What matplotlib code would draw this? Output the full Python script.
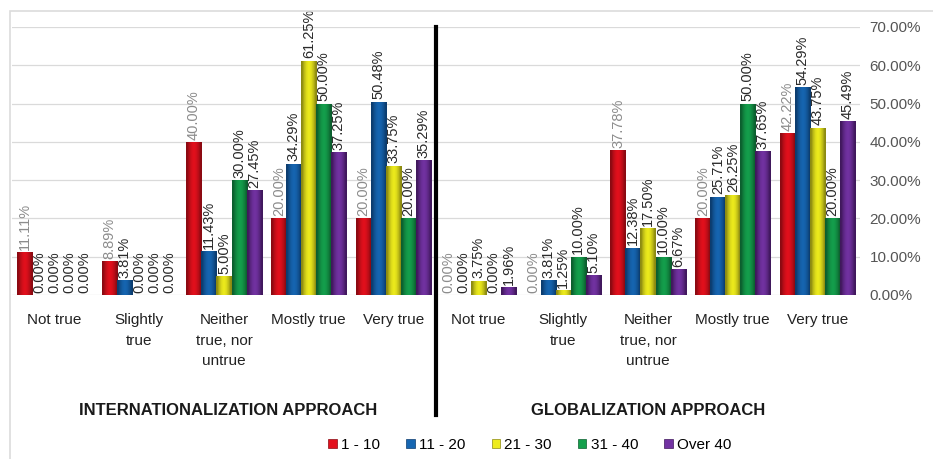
import matplotlib
matplotlib.use("Agg")
import matplotlib.pyplot as plt
from matplotlib.colors import LinearSegmentedColormap
from matplotlib.patches import Patch, Rectangle
import numpy as np

# answer categories, repeated for both approaches
answers = ["Not true", "Slightly\ntrue", "Neither\ntrue, nor\nuntrue", "Mostly true", "Very true"]
age_groups = ["1 - 10", "11 - 20", "21 - 30", "31 - 40", "Over 40"]

# percentages per age group, one value per answer
intl_1_10 = [11.11, 8.89, 40.00, 20.00, 20.00]
intl_11_20 = [0.00, 3.81, 11.43, 34.29, 50.48]
intl_21_30 = [0.00, 0.00, 5.00, 61.25, 33.75]
intl_31_40 = [0.00, 0.00, 30.00, 50.00, 20.00]
intl_over_40 = [0.00, 0.00, 27.45, 37.25, 35.29]

glob_1_10 = [0.00, 0.00, 37.78, 20.00, 42.22]
glob_11_20 = [0.00, 3.81, 12.38, 25.71, 54.29]
glob_21_30 = [3.75, 1.25, 17.50, 26.25, 43.75]
glob_31_40 = [0.00, 10.00, 10.00, 50.00, 20.00]
glob_over_40 = [1.96, 5.10, 6.67, 37.65, 45.49]

colors = ["#E3101C", "#1666B2", "#EEEC1C", "#14A04C", "#7232A2"]
edges = ["#8A0A12", "#0C3C6E", "#8C8A12", "#0C5E2E", "#40185C"]

series = [
    intl_1_10 + glob_1_10,
    intl_11_20 + glob_11_20,
    intl_21_30 + glob_21_30,
    intl_31_40 + glob_31_40,
    intl_over_40 + glob_over_40,
]

fig = plt.figure(figsize=(9.33, 4.59), dpi=100)
fig.patches.append(Rectangle((10 / 933, -0.1), 1.2, 1.1 - 11 / 459,
                             transform=fig.transFigure, fill=False,
                             edgecolor="#DCDCDC", linewidth=1.2))
ax = fig.add_axes([12 / 933, 1 - 295 / 459, 848 / 933, 268 / 459])

x = np.arange(len(answers) * 2)
width = 0.177
shade = np.array([[0.0, 0.5, 0.85, 1.0, 0.85, 0.5, 0.0]])
for i, vals in enumerate(series):
    pos = x + (i - 2) * width
    bars = ax.bar(pos, vals, width, color=colors[i], edgecolor="none", zorder=3)
    # cylinder-like shading: dark at the sides, full colour in the middle
    cmap = LinearSegmentedColormap.from_list(f"s{i}", [edges[i], colors[i]])
    for b in bars:
        if b.get_height() <= 0:
            continue
        im = ax.imshow(shade, cmap=cmap, vmin=0, vmax=1, aspect="auto",
                       interpolation="bilinear", zorder=3,
                       extent=[b.get_x(), b.get_x() + b.get_width(), 0, b.get_height()])
        im.set_clip_path(b)
    lab_color = "#8C8C8C" if i == 0 else "#2A2A2A"
    for p, v in zip(pos, vals):
        ax.text(p, v + 0.6, f"{v:.2f}%", rotation=90, ha="center", va="bottom",
                fontsize=10.5, color=lab_color, family="Liberation Sans",
                clip_on=False, zorder=4)

ax.set_xlim(-0.5, 9.5)
ax.set_ylim(0, 70)
ax.set_yticks(np.arange(0, 71, 10))
ax.yaxis.tick_right()
ax.set_yticklabels([f"{t:.2f}%" for t in range(0, 71, 10)])
ax.tick_params(axis="y", length=0, pad=7, labelsize=11, labelcolor="#555555")
ax.set_xticks(x)
ax.set_xticklabels(answers * 2, linespacing=1.6, fontsize=11,
                   family="Liberation Sans", color="#222222", va="top")
ax.tick_params(axis="x", length=0, pad=13)
for lbl in ax.get_yticklabels():
    lbl.set_family("Liberation Sans")
ax.grid(axis="y", color="#DADADA", linewidth=0.9, zorder=0)
for s in ax.spines.values():
    s.set_visible(False)

# divider between the two approaches
ax.axvline(4.5, ymin=-0.448, ymax=1.0, color="black", linewidth=3, clip_on=False, zorder=5)

ax.text(2.05, -0.43, "INTERNATIONALIZATION APPROACH", transform=ax.get_xaxis_transform(),
        ha="center", va="center", fontsize=12, fontweight="bold", family="Liberation Sans",
        color="#1A1A1A")
ax.text(7.0, -0.43, "GLOBALIZATION APPROACH", transform=ax.get_xaxis_transform(),
        ha="center", va="center", fontsize=12, fontweight="bold", family="Liberation Sans",
        color="#1A1A1A")

handles = [Patch(facecolor=c, edgecolor=e, linewidth=0.5) for c, e in zip(colors, edges)]
fig.legend(handles, age_groups, loc="center", bbox_to_anchor=(530 / 933, 1 - 445 / 459),
           ncol=5, frameon=False, handlelength=0.55, handleheight=0.55,
           handletextpad=0.3, columnspacing=1.7,
           prop={"family": "Liberation Sans", "size": 11})

fig.savefig("out.png", dpi=100)
